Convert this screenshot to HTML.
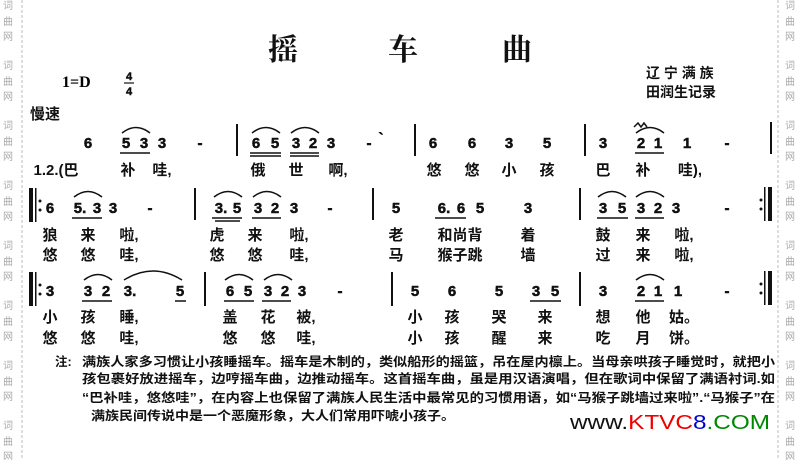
<!DOCTYPE html>
<html><head><meta charset="utf-8"><style>
html,body{margin:0;padding:0;background:#fff;}
svg{display:block;}
.n{font:bold 15px "Liberation Sans",sans-serif;text-anchor:middle;fill:#111;stroke:#111;stroke-width:0.5;}
.l{font:bold 15px "Liberation Sans","Noto Sans CJK SC",sans-serif;text-anchor:middle;fill:#111;}
.w{font:10px "Noto Sans CJK SC",sans-serif;fill:#aaa;text-anchor:middle;}
.t{font:bold 12.5px "Liberation Sans","Noto Sans CJK SC",sans-serif;fill:#111;}
</style></head><body>
<svg width="800" height="460" viewBox="0 0 800 460" xmlns="http://www.w3.org/2000/svg">
<line x1="22" y1="0" x2="22" y2="460" stroke="#bbb" stroke-dasharray="3,2"/>
<line x1="778" y1="0" x2="778" y2="460" stroke="#bbb" stroke-dasharray="3,2"/>
<g class="w">
<text x="8" y="9">词</text><text x="8" y="25">曲</text><text x="8" y="40">网</text>
<text x="8" y="69">词</text><text x="8" y="85">曲</text><text x="8" y="100">网</text>
<text x="8" y="129">词</text><text x="8" y="145">曲</text><text x="8" y="160">网</text>
<text x="8" y="189">词</text><text x="8" y="205">曲</text><text x="8" y="220">网</text>
<text x="8" y="249">词</text><text x="8" y="265">曲</text><text x="8" y="280">网</text>
<text x="8" y="309">词</text><text x="8" y="325">曲</text><text x="8" y="340">网</text>
<text x="8" y="369">词</text><text x="8" y="385">曲</text><text x="8" y="400">网</text>
<text x="8" y="429">词</text><text x="8" y="445">曲</text><text x="8" y="460">网</text>
<text x="790" y="9">词</text><text x="790" y="25">曲</text><text x="790" y="40">网</text>
<text x="790" y="69">词</text><text x="790" y="85">曲</text><text x="790" y="100">网</text>
<text x="790" y="129">词</text><text x="790" y="145">曲</text><text x="790" y="160">网</text>
<text x="790" y="189">词</text><text x="790" y="205">曲</text><text x="790" y="220">网</text>
<text x="790" y="249">词</text><text x="790" y="265">曲</text><text x="790" y="280">网</text>
<text x="790" y="309">词</text><text x="790" y="325">曲</text><text x="790" y="340">网</text>
<text x="790" y="369">词</text><text x="790" y="385">曲</text><text x="790" y="400">网</text>
<text x="790" y="429">词</text><text x="790" y="445">曲</text><text x="790" y="460">网</text>
</g>
<g style="font:bold 30px 'Noto Serif CJK SC','Noto Sans CJK SC',serif" text-anchor="middle" fill="#111">
<text x="283" y="60">摇</text><text x="403" y="60">车</text><text x="517" y="60">曲</text></g>
<text x="62" y="87" style="font:bold 16px 'Liberation Serif',serif">1=D</text>
<text x="129" y="80" class="n" style="font-size:11px">4</text>
<line x1="124" y1="83" x2="134" y2="83" stroke="#111" stroke-width="1.2"/>
<text x="129" y="95" class="n" style="font-size:11px">4</text>
<text x="646" y="78" class="t" style="font-size:14px">辽 宁 满 族</text>
<text x="646" y="97" class="t" style="font-size:14px">田润生记录</text>
<text x="30" y="119" class="t" style="font-size:15px">慢速</text>

<g stroke="#111" stroke-width="2">
<line x1="237" y1="124" x2="237" y2="156"/><line x1="415" y1="124" x2="415" y2="156"/>
<line x1="585" y1="124" x2="585" y2="156"/><line x1="771" y1="122" x2="771" y2="154"/>
<line x1="195" y1="188" x2="195" y2="220"/><line x1="373" y1="188" x2="373" y2="220"/>
<line x1="580" y1="188" x2="580" y2="220"/>
<line x1="205" y1="272" x2="205" y2="306"/><line x1="392" y1="272" x2="392" y2="306"/>
<line x1="580" y1="272" x2="580" y2="306"/>
</g>
<g fill="#111">
<rect x="29" y="188" width="4" height="34"/><rect x="35" y="188" width="1.5" height="34"/>
<circle cx="40" cy="201" r="1.5"/><circle cx="40" cy="210" r="1.5"/>
<rect x="29" y="272" width="4" height="34"/><rect x="35" y="272" width="1.5" height="34"/>
<circle cx="40" cy="285" r="1.5"/><circle cx="40" cy="294" r="1.5"/>
<rect x="768" y="187" width="4" height="34"/><rect x="764" y="187" width="1.5" height="34"/>
<circle cx="761" cy="200" r="1.5"/><circle cx="761" cy="209" r="1.5"/>
<rect x="768" y="271" width="4" height="34"/><rect x="764" y="271" width="1.5" height="34"/>
<circle cx="761" cy="284" r="1.5"/><circle cx="761" cy="293" r="1.5"/>
</g>
<g class="n">
<text x="88" y="148">6</text><text x="126" y="148">5</text><text x="144" y="148">3</text><text x="162" y="148">3</text><text x="200" y="148">-</text>
<text x="256" y="148">6</text><text x="275" y="148">5</text><text x="296" y="148">3</text><text x="313" y="148">2</text><text x="331" y="148">3</text><text x="369" y="148">-</text><text x="381" y="143">`</text>
<text x="433" y="148">6</text><text x="472" y="148">6</text><text x="509" y="148">3</text><text x="547" y="148">5</text>
<text x="603" y="148">3</text><text x="641" y="148">2</text><text x="658" y="148">1</text><text x="687" y="148">1</text><text x="727" y="148">-</text>
</g>
<g class="l">
<text x="56" y="175">1.2.(巴</text><text x="128" y="175">补</text><text x="162" y="175">哇,</text>
<text x="258" y="175">俄</text><text x="296" y="175">世</text><text x="338" y="175">啊,</text>
<text x="434" y="175">悠</text><text x="472" y="175">悠</text><text x="509" y="175">小</text><text x="547" y="175">孩</text>
<text x="603" y="175">巴</text><text x="643" y="175">补</text><text x="690" y="175">哇),</text>
</g>
<g class="n">
<text x="50" y="213">6</text><text x="80" y="213">5.</text><text x="97" y="213">3</text><text x="113" y="213">3</text><text x="150" y="213">-</text>
<text x="221" y="213">3.</text><text x="237" y="213">5</text><text x="258" y="213">3</text><text x="275" y="213">2</text><text x="294" y="213">3</text><text x="330" y="213">-</text>
<text x="396" y="213">5</text><text x="444" y="213">6.</text><text x="461" y="213">6</text><text x="480" y="213">5</text><text x="528" y="213">3</text>
<text x="603" y="213">3</text><text x="622" y="213">5</text><text x="641" y="213">3</text><text x="658" y="213">2</text><text x="676" y="213">3</text><text x="727" y="213">-</text>
</g>
<g class="l">
<text x="50" y="240">狼</text><text x="88" y="240">来</text><text x="129" y="240">啦,</text>
<text x="217" y="240">虎</text><text x="255" y="240">来</text><text x="299" y="240">啦,</text>
<text x="396" y="240">老</text><text x="460" y="240">和尚背</text><text x="528" y="240">着</text>
<text x="603" y="240">鼓</text><text x="643" y="240">来</text><text x="684" y="240">啦,</text>
<text x="50" y="260">悠</text><text x="88" y="260">悠</text><text x="129" y="260">哇,</text>
<text x="217" y="260">悠</text><text x="255" y="260">悠</text><text x="299" y="260">哇,</text>
<text x="396" y="260">马</text><text x="460" y="260">猴子跳</text><text x="528" y="260">墙</text>
<text x="603" y="260">过</text><text x="643" y="260">来</text><text x="684" y="260">啦,</text>
</g>
<g class="n">
<text x="50" y="296">3</text><text x="88" y="296">3</text><text x="106" y="296">2</text><text x="130" y="296">3.</text><text x="180" y="296">5</text>
<text x="230" y="296">6</text><text x="248" y="296">5</text><text x="268" y="296">3</text><text x="285" y="296">2</text><text x="302" y="296">3</text><text x="340" y="296">-</text>
<text x="415" y="296">5</text><text x="452" y="296">6</text><text x="499" y="296">5</text><text x="536" y="296">3</text><text x="555" y="296">5</text>
<text x="603" y="296">3</text><text x="641" y="296">2</text><text x="658" y="296">1</text><text x="678" y="296">1</text><text x="727" y="296">-</text>
</g>
<g class="l">
<text x="50" y="322">小</text><text x="88" y="322">孩</text><text x="129" y="322">睡,</text>
<text x="230" y="322">盖</text><text x="268" y="322">花</text><text x="306" y="322">被,</text>
<text x="415" y="322">小</text><text x="452" y="322">孩</text><text x="499" y="322">哭</text><text x="545" y="322">来</text>
<text x="603" y="322">想</text><text x="643" y="322">他</text><text x="684" y="322">姑。</text>
<text x="50" y="343">悠</text><text x="88" y="343">悠</text><text x="129" y="343">哇,</text>
<text x="230" y="343">悠</text><text x="268" y="343">悠</text><text x="306" y="343">哇,</text>
<text x="415" y="343">小</text><text x="452" y="343">孩</text><text x="499" y="343">醒</text><text x="545" y="343">来</text>
<text x="603" y="343">吃</text><text x="643" y="343">月</text><text x="684" y="343">饼。</text>
</g>
<g stroke="#111" stroke-width="1.5">
<line x1="120" y1="153" x2="150" y2="153"/><line x1="250" y1="153" x2="281" y2="153"/><line x1="290" y1="153" x2="319" y2="153"/>
<line x1="250" y1="156" x2="281" y2="156"/><line x1="290" y1="156" x2="319" y2="156"/>
<line x1="635" y1="153" x2="664" y2="153"/>
<line x1="72" y1="218" x2="102" y2="218"/><line x1="212" y1="218" x2="242" y2="218"/><line x1="215" y1="221" x2="240" y2="221"/>
<line x1="252" y1="218" x2="281" y2="218"/><line x1="435" y1="218" x2="466" y2="218"/>
<line x1="597" y1="218" x2="628" y2="218"/><line x1="635" y1="218" x2="664" y2="218"/>
<line x1="82" y1="301" x2="112" y2="301"/><line x1="175" y1="301" x2="186" y2="301"/>
<line x1="224" y1="301" x2="254" y2="301"/><line x1="262" y1="301" x2="291" y2="301"/>
<line x1="530" y1="301" x2="561" y2="301"/><line x1="635" y1="301" x2="664" y2="301"/>
</g>
<g fill="none" stroke="#111" stroke-width="1.5">
<path d="M122 133 Q136 122 150 133"/><path d="M252 133 Q266 122 280 133"/><path d="M291 133 Q305 122 319 133"/>
<path d="M636 133 Q650 122 664 133"/><path d="M634 127 l4 -4 l3 4 l3 -4 l3 4"/>
<path d="M74 197 Q88 186 102 197"/><path d="M214 197 Q228 186 242 197"/><path d="M253 197 Q267 186 281 197"/>
<path d="M598 197 Q612 186 626 197"/><path d="M636 197 Q650 186 664 197"/>
<path d="M84 280 Q98 269 112 280"/><path d="M124 280 Q153 262 182 280"/>
<path d="M225 280 Q239 269 253 280"/><path d="M264 280 Q278 269 292 280"/><path d="M636 280 Q650 269 664 280"/>
</g>
<text x="55" y="366" class="t">注:</text>
<text x="82" y="366" class="t" textLength="693" lengthAdjust="spacingAndGlyphs">满族人家多习惯让小孩睡摇车。摇车是木制的，类似船形的摇篮，吊在屋内檩上。当母亲哄孩子睡觉时，就把小</text>
<text x="82" y="383" class="t" textLength="693" lengthAdjust="spacingAndGlyphs">孩包裹好放进摇车，边哼摇车曲，边推动摇车。这首摇车曲，虽是用汉语演唱，但在歌词中保留了满语衬词.如</text>
<text x="82" y="402" class="t" textLength="693" lengthAdjust="spacingAndGlyphs">“巴补哇，悠悠哇”，在内容上也保留了满族人民生活中最常见的习惯用语，如“马猴子跳墙过来啦”.“马猴子”在</text>
<text x="91" y="420" class="t" textLength="364" lengthAdjust="spacingAndGlyphs">满族民间传说中是一个恶魔形象，大人们常用吓唬小孩子。</text>
<text x="570" y="429" style="font:20px 'Liberation Sans',sans-serif" textLength="200" lengthAdjust="spacingAndGlyphs"><tspan fill="#111">www.</tspan><tspan fill="#e00">KTVC</tspan><tspan fill="#00c">8</tspan><tspan fill="#080">.COM</tspan></text>
</svg>
</body></html>
